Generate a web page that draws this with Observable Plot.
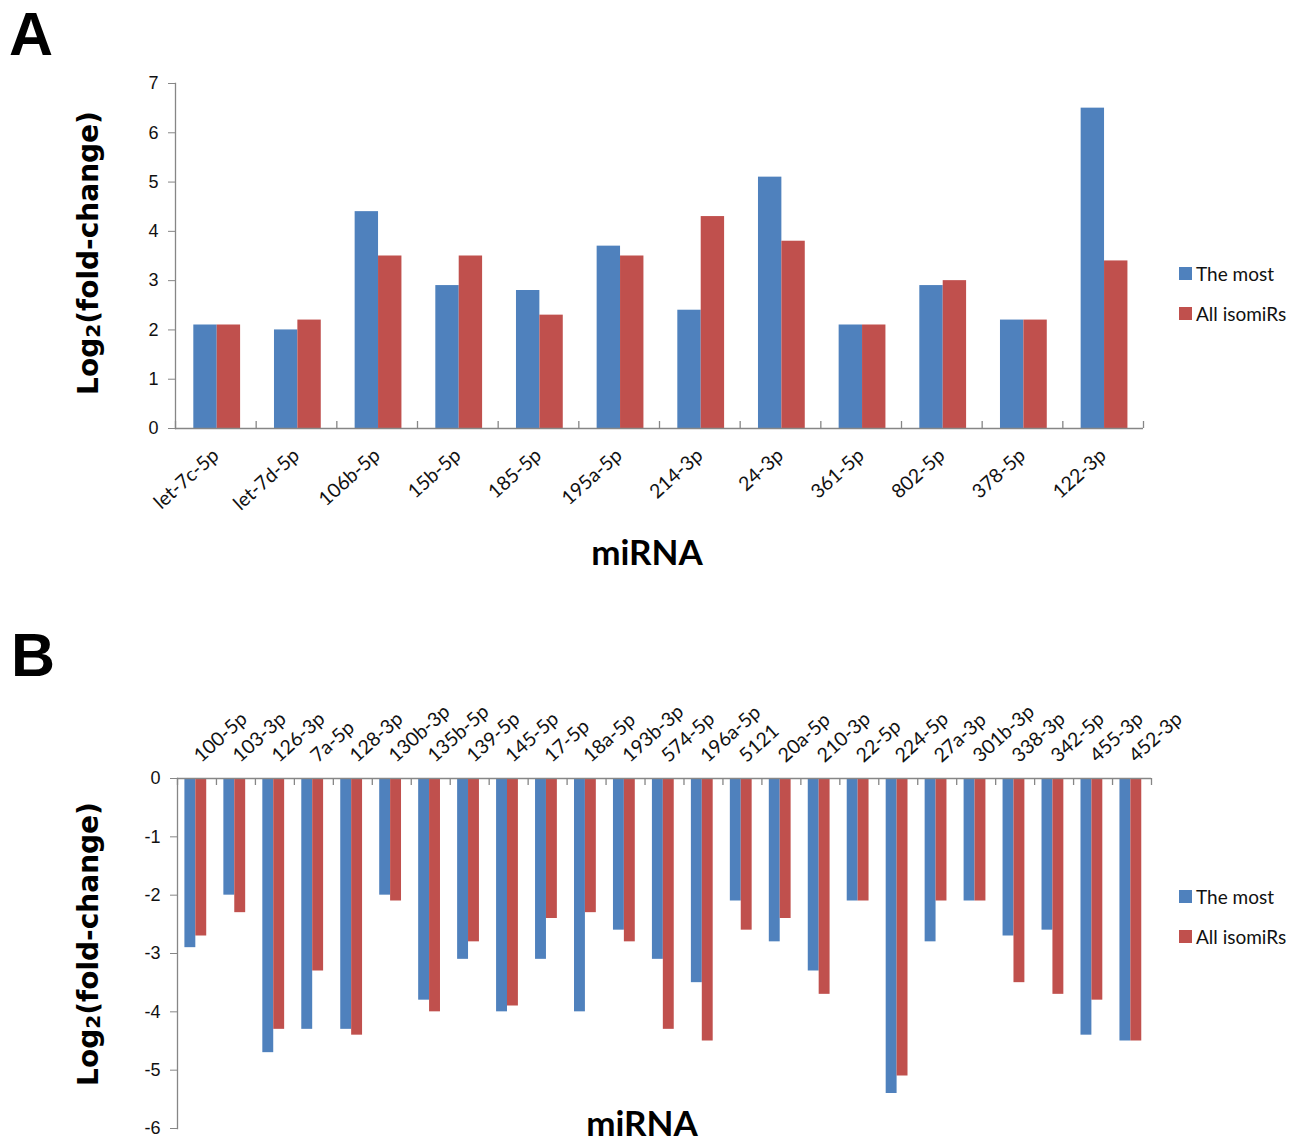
<!DOCTYPE html>
<html>
<head>
<meta charset="utf-8">
<script src="https://cdn.jsdelivr.net/npm/d3@7"></script>
<script src="https://cdn.jsdelivr.net/npm/@observablehq/plot@0.6"></script>
<style>
  html, body { margin: 0; padding: 0; background: #fff; }
  #root { position: relative; width: 1301px; height: 1143px; overflow: hidden; background: #fff; }
  .abs { position: absolute; white-space: nowrap; }
  .letter { font-family: "Liberation Sans", Arial, sans-serif; font-weight: bold; font-size: 61px; line-height: 1; color: #000; }
  .ytitle { font-family: "DejaVu Sans", Verdana, sans-serif; font-weight: bold; font-size: 28px; color: #000;
            transform: translate(-50%, -50%) rotate(-90deg); }
  .ytitle .sub { font-size: 0.72em; position: relative; top: 0.08em; }
  .xtitle { font-family: Lato, sans-serif; font-weight: bold; font-size: 35px; color: #000; transform: translate(-50%, 0); line-height: 1; }
  .leg { font-family: Lato, sans-serif; font-size: 19px; color: #111; display: flex; align-items: center; }
  .leg .sw { width: 13px; height: 13px; margin-right: 4px; display: inline-block; }
  .plot { position: absolute; left: 0; }
</style>
</head>
<body>
<div id="root"></div>
<script>
// ---------------- data ----------------
const seriesNames = ["The most", "All isomiRs"];
const seriesColors = ["#4F81BD", "#C0504D"];

const catsA = ["let-7c-5p", "let-7d-5p", "106b-5p", "15b-5p", "185-5p", "195a-5p", "214-3p", "24-3p", "361-5p", "802-5p", "378-5p", "122-3p"];
const mostA = [2.1, 2.0, 4.4, 2.9, 2.8, 3.7, 2.4, 5.1, 2.1, 2.9, 2.2, 6.5];
const allA  = [2.1, 2.2, 3.5, 3.5, 2.3, 3.5, 4.3, 3.8, 2.1, 3.0, 2.2, 3.4];
const yTicksA = [0, 1, 2, 3, 4, 5, 6, 7];

const catsB = ["100-5p", "103-3p", "126-3p", "7a-5p", "128-3p", "130b-3p", "135b-5p", "139-5p", "145-5p", "17-5p", "18a-5p", "193b-3p", "574-5p", "196a-5p", "5121", "20a-5p", "210-3p", "22-5p", "224-5p", "27a-3p", "301b-3p", "338-3p", "342-5p", "455-3p", "452-3p"];
const mostB = [-2.9, -2.0, -4.7, -4.3, -4.3, -2.0, -3.8, -3.1, -4.0, -3.1, -4.0, -2.6, -3.1, -3.5, -2.1, -2.8, -3.3, -2.1, -5.4, -2.8, -2.1, -2.7, -2.6, -4.4, -4.5];
const allB  = [-2.7, -2.3, -4.3, -3.3, -4.4, -2.1, -4.0, -2.8, -3.9, -2.4, -2.3, -2.8, -4.3, -4.5, -2.6, -2.4, -3.7, -2.1, -5.1, -2.1, -2.1, -3.5, -3.7, -3.8, -4.5];
const yTicksB = [0, -1, -2, -3, -4, -5, -6];

// ---------------- helpers ----------------
const axisGray = "#868686";
const textCol = "#111";
const root = document.getElementById("root");

function rows(cats, a, b) {
  return cats.flatMap((c, i) => [
    {cat: c, series: seriesNames[0], value: a[i]},
    {cat: c, series: seriesNames[1], value: b[i]}
  ]);
}

function panel({cats, a, b, top, height, mt, mb, ml, mr, yDomain, yTicks, xAnchor, gapL, barF, labelPad}) {
  const W = 1301;
  const step = (W - ml - mr) / cats.length;
  const data = rows(cats, a, b);
  const bw = step * barF;
  const gl = step * gapL;
  const last = [cats[cats.length - 1]];
  // category boundary ticks: short rules hanging below the zero line
  const tickOpts = {x: d => d, y1: 0, y2: 0, stroke: axisGray, strokeWidth: 1.3};
  const inset = xAnchor === "bottom" ? {insetTop: -7} : {insetBottom: -7};
  const chart = Plot.plot({
    width: W, height, marginTop: mt, marginBottom: mb, marginLeft: ml, marginRight: mr,
    style: {background: "transparent", overflow: "visible"},
    x: {type: "band", domain: cats, padding: 0, round: false, label: null},
    y: {domain: yDomain, label: null},
    color: {domain: seriesNames, range: seriesColors},
    marks: [
      Plot.barY(data.filter(d => d.series === seriesNames[0]), {x: "cat", y: "value", fill: "series",
        insetLeft: gl, insetRight: step - gl - bw}),
      Plot.barY(data.filter(d => d.series === seriesNames[1]), {x: "cat", y: "value", fill: "series",
        insetLeft: gl + bw, insetRight: step - gl - 2 * bw}),
      Plot.ruleY([0], {stroke: axisGray, strokeWidth: 1.3}),
      Plot.frame({anchor: "left", stroke: axisGray, strokeWidth: 1.3}),
      Plot.ruleX(cats, {...tickOpts, ...inset, dx: -step / 2}),
      Plot.ruleX(last, {...tickOpts, ...inset, dx: step / 2}),
      Plot.axisY({ticks: yTicks, tickFormat: d => String(d), tickSize: 7, tickPadding: 10,
        stroke: axisGray, fill: textCol, fontSize: 18, fontFamily: "Liberation Sans, Arial, sans-serif", label: null}),
      Plot.axisX({anchor: xAnchor, tickSize: 0, tickPadding: labelPad, tickRotate: -42,
        fontSize: 19.5, fontFamily: "Lato, sans-serif", fill: textCol, label: null})
    ]
  });
  chart.classList.add("plot");
  chart.style.top = top + "px";
  root.appendChild(chart);
}

function html(cls, text, style) {
  const d = document.createElement("div");
  d.className = "abs " + cls;
  d.innerHTML = text;
  Object.assign(d.style, style);
  root.appendChild(d);
  return d;
}

function legend(yCenters) {
  seriesNames.forEach((s, i) => {
    html("leg", `<span class="sw" style="background:${seriesColors[i]}"></span>${s}`,
      {left: "1179px", top: (yCenters[i] - 12) + "px", height: "24px"});
  });
}

// ---------------- panel A ----------------
panel({cats: catsA, a: mostA, b: allA, top: 0, height: 600, mt: 83, mb: 172, ml: 175, mr: 158,
  yDomain: [0, 7], yTicks: yTicksA, xAnchor: "bottom", gapL: 0.227, barF: 0.29, labelPad: 24});
html("letter", "A", {left: "9px", top: "4px"});
html("ytitle", 'Log<span class="sub">2</span>(fold-change)', {left: "88px", top: "253px"});
html("xtitle", "miRNA", {left: "647px", top: "534px"});
legend([273, 313]);

// ---------------- panel B ----------------
panel({cats: catsB, a: mostB, b: allB, top: 600, height: 543, mt: 178, mb: 15, ml: 177, mr: 150,
  yDomain: [-6, 0], yTicks: yTicksB, xAnchor: "top", gapL: 0.19, barF: 0.28, labelPad: 20});
html("letter", "B", {left: "11px", top: "625px"});
html("ytitle", 'Log<span class="sub">2</span>(fold-change)', {left: "88px", top: "944px"});
html("xtitle", "miRNA", {left: "642px", top: "1105px"});
legend([896, 936]);
</script>
</body>
</html>
